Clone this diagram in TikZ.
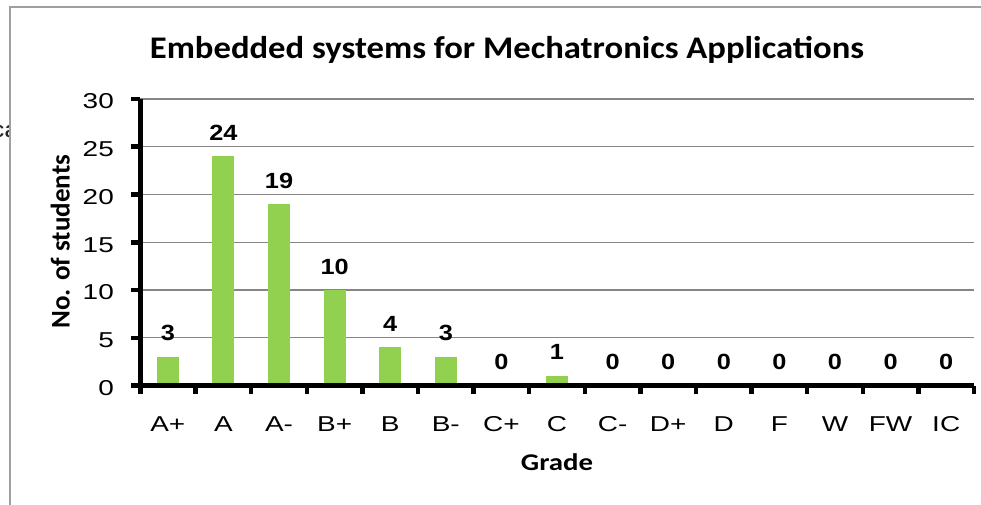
\documentclass[tikz,border=0pt]{standalone}
\usepackage{fontspec}
\setmainfont{Liberation Sans}
\newfontfamily\tickfont[FakeStretch=1.3]{Liberation Sans}
\newfontfamily\valfont[FakeStretch=1.15]{Liberation Sans}
\newfontfamily\titlefont[FakeStretch=1.1]{Carlito}
\newfontfamily\axfont[FakeStretch=1.2]{Carlito}
\newfontfamily\yaxfont{Carlito}
\newfontfamily\strayfont[FakeStretch=1.2]{Liberation Sans}
\definecolor{bargreen}{HTML}{92D050}
\definecolor{gridgray}{HTML}{868686}
\definecolor{framegray}{HTML}{A0A0A0}
\begin{document}
\begin{tikzpicture}[x=1pt,y=-1pt,
  grid/.style={draw=gridgray, line width=1.3pt},
  axisline/.style={draw=black, line width=5pt},
  tickline/.style={draw=black, line width=4.5pt},
  ticklab/.style={font=\tickfont\fontsize{21.5}{21.5}\selectfont, inner sep=0pt},
  vallab/.style={font=\valfont\bfseries\fontsize{22}{22}\selectfont, inner sep=0pt, anchor=base},
  axtitle/.style={font=\axfont\bfseries\fontsize{24}{24}\selectfont, inner sep=0pt, anchor=base},
]
\useasboundingbox (0,0) rectangle (981,505);
% stray text behind the chart
\node[font=\strayfont\fontsize{23}{23}\selectfont, text=black!85, inner sep=0pt, anchor=base east] (stray) at (20,137.7) {ca};
% chart area
\fill[white] (10,7) rectangle (981,505);
\draw[framegray, line width=1.3pt] (10,505) -- (10,7) -- (981,7);
% title
\node[font=\titlefont\bfseries\fontsize{31.5}{31.5}\selectfont, inner sep=0pt, anchor=base] (title) at (507,58.3) {Embedded systems for Mechatronics Applications};
% gridlines
\foreach \v in {5,10,...,30} {
  \draw[grid] (140,{385.5-9.55*\v}) -- (974,{385.5-9.55*\v});
}
% bars and value labels
\foreach \val [count=\i from 0] in {3,24,19,10,4,3,0,1,0,0,0,0,0,0,0} {
  \pgfmathsetmacro{\cx}{140+55.6*(\i+0.5)}
  \pgfmathsetmacro{\top}{385.5-9.55*\val}
  \ifnum\val>0
    \fill[bargreen] ({\cx-11},385.5) rectangle ({\cx+11},\top);
  \fi
  \node[vallab] (val\i) at (\cx,{\top-16}) {\val};
}
% axes
\draw[axisline] (131,385.5) -- (974,385.5);
\draw[axisline] (140,99) -- (140,394);
\foreach \v in {0,5,...,30} {
  \draw[tickline] (131,{385.5-9.55*\v}) -- (140,{385.5-9.55*\v});
}
\foreach \k in {1,...,15} {
  \draw[tickline] ({140+55.6*\k},385.5) -- ({140+55.6*\k},394);
}
% y tick labels
\foreach \v in {0,5,...,30} {
  \node[ticklab, anchor=east] (y\v) at (114,{388-9.55*\v}) {\v};
}
% x tick labels
\foreach \g [count=\i from 0] in {A+,A,A-,B+,B,B-,C+,C,C-,D+,D,F,W,FW,IC} {
  \node[ticklab, anchor=base] (x\i) at ({140+55.6*(\i+0.5)},431.7) {\g};
}
% axis titles
\node[axtitle] (xtitle) at (557,470) {Grade};
\node[font=\yaxfont\bfseries\fontsize{27}{27}\selectfont, inner sep=0pt, anchor=base, rotate=90] (ytitle) at (69.5,241.7) {No. of students};
\end{tikzpicture}
\end{document}
